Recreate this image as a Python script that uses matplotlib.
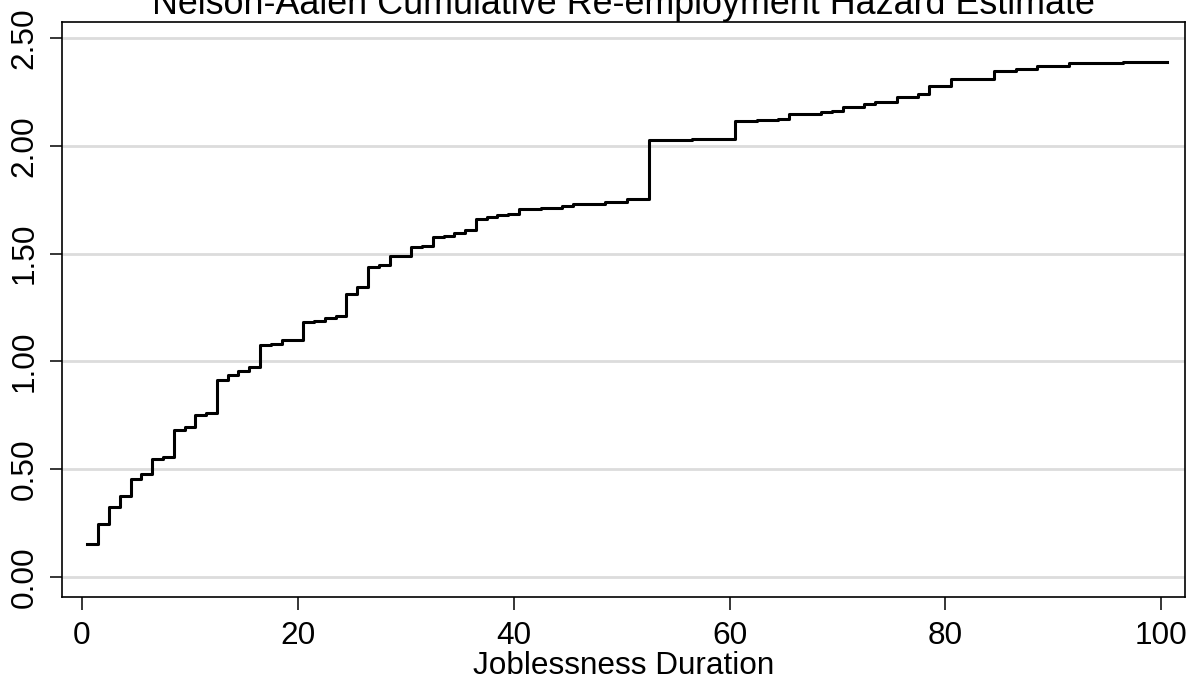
"""
Nelson-Aalen cumulative re-employment hazard
"""

import matplotlib
matplotlib.use('Agg')
import matplotlib.pyplot as plt

# Failure times (jobless duration) and the cumulative hazard after each one
duration = [0.5, 1.5, 2.5, 3.5, 4.5, 5.5, 6.5, 7.5, 8.5, 9.5,
            10.5, 11.5, 12.5, 13.5, 14.5, 15.5, 16.5, 17.5, 18.5, 20.5,
            21.5, 22.5, 23.5, 24.5, 25.5, 26.5, 27.5, 28.5, 30.5, 31.5,
            32.5, 33.5, 34.5, 35.5, 36.5, 37.5, 38.5, 39.5, 40.5, 42.5,
            44.5, 45.5, 48.5, 50.5, 52.5, 56.5, 60.5, 62.5, 64.5, 65.5,
            68.5, 69.5, 70.5, 72.5, 73.5, 75.5, 77.5, 78.5, 80.5, 84.5,
            86.5, 88.5, 91.5, 96.5]
cum_hazard = [0.154, 0.246, 0.323, 0.374, 0.455, 0.479, 0.547, 0.557, 0.682, 0.697,
              0.753, 0.761, 0.914, 0.935, 0.957, 0.973, 1.075, 1.082, 1.099, 1.181,
              1.187, 1.203, 1.210, 1.313, 1.345, 1.439, 1.447, 1.489, 1.529, 1.535,
              1.576, 1.583, 1.597, 1.609, 1.660, 1.671, 1.679, 1.685, 1.705, 1.710,
              1.722, 1.729, 1.741, 1.755, 2.027, 2.033, 2.114, 2.118, 2.124, 2.148,
              2.155, 2.163, 2.178, 2.194, 2.201, 2.225, 2.238, 2.276, 2.311, 2.347,
              2.355, 2.372, 2.383, 2.387]
last_time = 100.5

x_ticks = [0, 20, 40, 60, 80, 100]
y_ticks = [0.0, 0.5, 1.0, 1.5, 2.0, 2.5]
y_tick_labels = ['0.00', '0.50', '1.00', '1.50', '2.00', '2.50']

plt.rcParams['font.family'] = ['Liberation Sans', 'DejaVu Sans']

fig = plt.figure(figsize=(11.95, 6.83), dpi=100)
ax = fig.add_axes([0.0519, 0.1259, 0.9397, 0.8419])

# Step function carried on to the last observed time
xs = duration + [last_time]
ys = cum_hazard + [cum_hazard[-1]]
ax.step(xs, ys, where='post', color='black', linewidth=2.2, zorder=3)

# Horizontal grid only
for yv in y_ticks:
    ax.axhline(yv, color='#dcdcdc', linewidth=2.0, zorder=1)

ax.set_xlim(-1.85, 102.2)
ax.set_ylim(-0.093, 2.574)

ax.set_xticks(x_ticks)
ax.set_yticks(y_ticks)
ax.set_yticklabels(y_tick_labels, rotation=90, va='center')
ax.tick_params(axis='both', direction='out', length=9, width=1.1,
               labelsize=22.7, color='black')
ax.tick_params(axis='x', pad=8.5)
ax.tick_params(axis='y', pad=7)

for spine in ax.spines.values():
    spine.set_linewidth(1.2)
    spine.set_color('black')

ax.set_xlabel('Joblessness Duration', fontsize=22.7, labelpad=0)
ax.set_title('Nelson-Aalen Cumulative Re-employment Hazard Estimate',
             fontsize=25.8, pad=3.6)

fig.savefig('out.png', dpi=100)
